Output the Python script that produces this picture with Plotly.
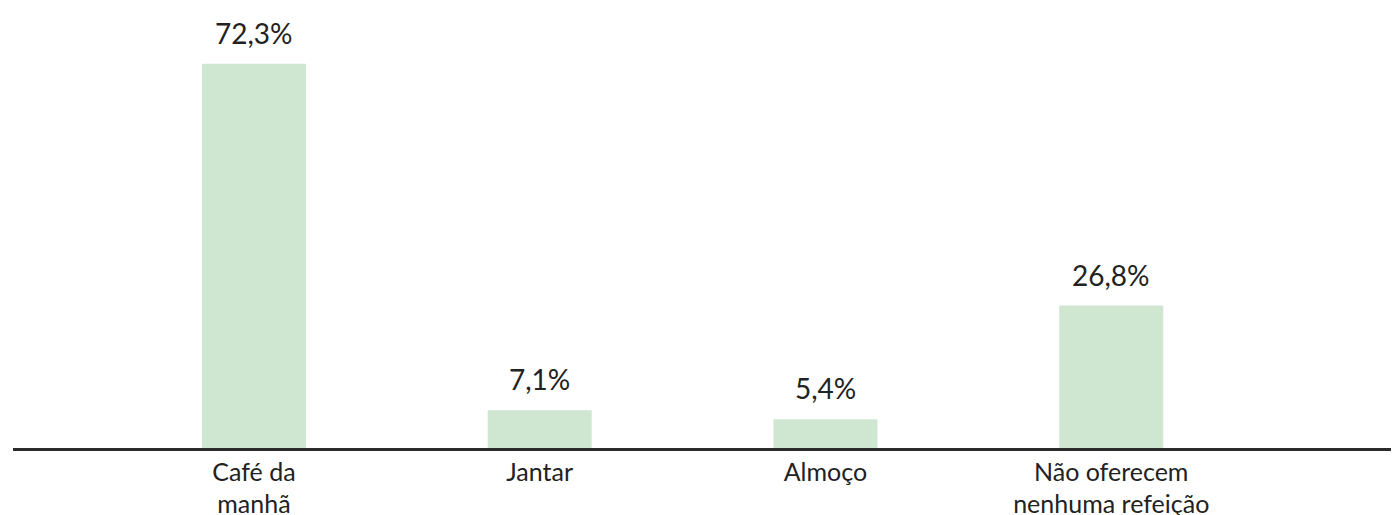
import plotly.graph_objects as go

categories = ["Café da<br>manhã", "Jantar", "Almoço", "Não oferecem<br>nenhuma refeição"]
values = [72.3, 7.1, 5.4, 26.8]
labels = ["72,3%", "7,1%", "5,4%", "26,8%"]

FONT = "Lato"
fig = go.Figure()
fig.add_trace(go.Bar(
    x=categories, y=values,
    marker=dict(color="#cfe7d0", line=dict(width=0)),
    hoverinfo="skip",
))
for c, v, t in zip(categories, values, labels):
    fig.add_annotation(x=c, y=v, text=t, showarrow=False, yanchor="bottom",
                       yshift=12, font=dict(family=FONT, size=28, color="#222222"))

# page body has an 8px margin; offsets below compensate for it
fig.update_layout(
    width=1399, height=515,
    margin=dict(l=5, r=8, t=2, b=75, autoexpand=False),
    paper_bgcolor="white", plot_bgcolor="white",
    bargap=0.636, showlegend=False,
    font=dict(family=FONT, color="#222222"),
)
fig.update_xaxes(
    type="category", range=[-0.843, 4.007], automargin=False,
    showline=True, linecolor="#2b2b2b", linewidth=2.5,
    showgrid=False, ticks="", tickfont=dict(family=FONT, size=25, color="#222222"),
)
fig.update_yaxes(range=[0, 82.4], visible=False, showgrid=False, zeroline=False)

fig.write_html("out.html")
